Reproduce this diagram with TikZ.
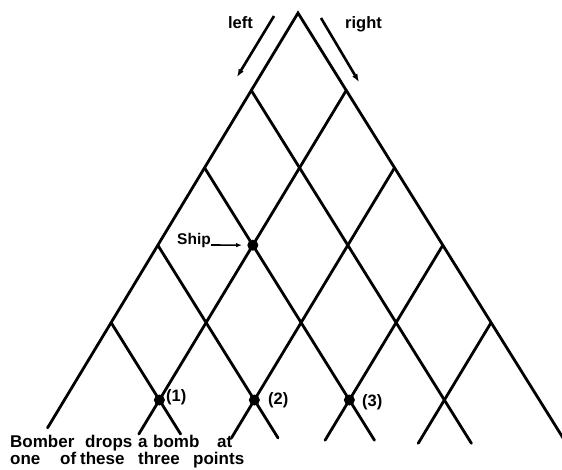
\documentclass[tikz,border=0pt]{standalone}
\usepackage{fontspec}
\setmainfont{Liberation Sans}
\usetikzlibrary{arrows.meta,calc}
\begin{document}
\begin{tikzpicture}[x=1pt,y=-1pt,
  lat/.style={line width=2.8pt, line cap=round, line join=miter},
  dirarrow/.style={line width=2.6pt, -{Latex[length=8pt,width=6pt]}},
  shiparrow/.style={line width=1.6pt, -{Latex[length=6pt,width=4.5pt]}, shorten >=5pt},
  word/.style={inner sep=0pt, anchor=base west, font=\fontsize{17}{19}\selectfont\bfseries},
  num/.style={inner sep=0pt, anchor=west, font=\fontsize{16.5}{18}\selectfont\bfseries},
  dirlbl/.style={inner sep=0pt, font=\fontsize{16.5}{18}\selectfont\bfseries},
  dot/.style={circle, fill=black, inner sep=0pt, minimum size=11pt}]
\useasboundingbox (0,0) rectangle (562,469);
% lattice points
\foreach \k in {0,...,6}{
  \foreach \j in {0,...,\k}{
    \pgfmathsetmacro{\xx}{298+(\j-\k/2)*95+0.774*\k}
    \pgfmathsetmacro{\yy}{13+77.4*\k}
    \coordinate (n-\k-\j) at (\xx,\yy);
  }
}
% outer edges
\draw[lat] ($(n-5-0)!0.36!(n-6-0)$) -- (n-0-0) -- ($(n-5-5)!0.57!(n-6-6)$);
% down-right lines from left edge
\foreach \k/\a/\b/\f in {1/4/5/0.56, 2/3/4/0.52, 3/2/3/0.49, 4/1/2/0.44}
  \draw[lat] (n-\k-0) -- ($(n-5-\a)!\f!(n-6-\b)$);
% down-left lines from right edge
\foreach \k/\f in {1/0.44, 2/0.49, 3/0.52, 4/0.56}
  \draw[lat] (n-\k-\k) -- ($(n-5-\k)!\f!(n-6-\k)$);
% dots
\node[dot] (ship) at (n-3-1) {};
\node[dot] (p1) at (n-5-1) {};
\node[dot] (p2) at (n-5-2) {};
\node[dot] (p3) at (n-5-3) {};
% direction arrows
\coordinate (la1) at (274,16);
\coordinate (la2) at (237,77);
\coordinate (ra1) at (321,18);
\coordinate (ra2) at (359,82);
\draw[dirarrow] (la1) -- (la2);
\draw[dirarrow] (ra1) -- (ra2);
\node[dirlbl, anchor=base east] (left) at (253,28) {left};
\node[dirlbl, anchor=base west] (right) at (345,28) {right};
% ship label
\node[inner sep=0pt, anchor=base west, font=\fontsize{15.5}{17}\selectfont\bfseries] (shiplbl) at (177,244) {Ship};
\coordinate (sa) at (211,245);
\draw[shiparrow] (sa) -- (ship);
% point labels
\node[num] (l1) at (166,397) {(1)};
\node[num] (l2) at (268,400.5) {(2)};
\node[num] (l3) at (362,402.5) {(3)};
% caption
\node[word] (w1) at (10,447) {Bomber};
\node[word] (w2) at (85,447) {drops};
\node[word] (w3) at (138,447) {a};
\node[word] (w4) at (153,447) {bomb};
\node[word] (w5) at (217,447) {at};
\node[word] (w6) at (10,464) {one};
\node[word] (w7) at (60,464) {of};
\node[word] (w8) at (80,464) {these};
\node[word] (w9) at (138,464) {three};
\node[word] (w10) at (193,464) {points};
\end{tikzpicture}
\end{document}
